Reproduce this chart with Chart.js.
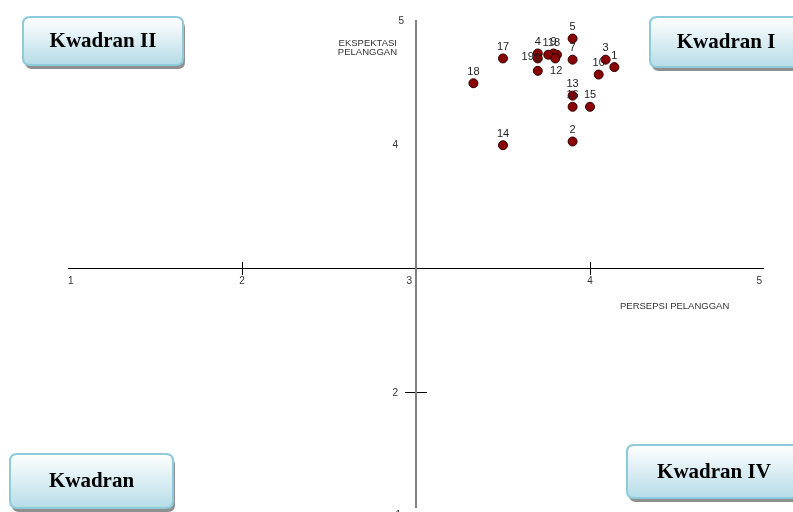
<!DOCTYPE html>
<html>
<head>
<title>Kuadran Persepsi vs Ekspektasi</title>
<script src="https://cdn.jsdelivr.net/npm/chart.js@4.4.0/dist/chart.umd.min.js"></script>
<style>
  body { margin: 0; background: #ffffff; }
  canvas#quad { display: block; }
</style>
</head>
<body>
<canvas id="quad" width="793" height="512"></canvas>

<script>
// data: atribut number, persepsi (x), ekspektasi (y)
const itemNo     = [1, 2, 3, 4, 5, 6, 7, 8, 9, 10, 11, 12, 13, 14, 15, 16, 17, 18, 19];
const persepsi   = [4.14, 3.90, 4.09, 3.70, 3.90, 3.70, 3.90, 3.81, 3.79, 4.05, 3.76, 3.80, 3.90, 3.50, 4.00, 3.90, 3.50, 3.33, 3.70];
const ekspektasi = [4.62, 4.02, 4.68, 4.73, 4.85, 4.59, 4.68, 4.72, 4.73, 4.56, 4.72, 4.69, 4.39, 3.99, 4.30, 4.30, 4.69, 4.49, 4.69];
const xTicks = [1, 2, 3, 4, 5];
const yTicks = [2, 4, 5];
const quadrantNames = ["Kwadran I", "Kwadran II", "Kwadran", "Kwadran IV"];

// where each number sits relative to its dot (style only)
const labelSide = {19: "left", 12: "belowRight"};

const points = itemNo.map((n, i) => ({x: persepsi[i], y: ekspektasi[i]}));

function roundRect(ctx, x, y, w, h, r) {
    ctx.beginPath();
    ctx.moveTo(x + r, y);
    ctx.lineTo(x + w - r, y);
    ctx.quadraticCurveTo(x + w, y, x + w, y + r);
    ctx.lineTo(x + w, y + h - r);
    ctx.quadraticCurveTo(x + w, y + h, x + w - r, y + h);
    ctx.lineTo(x + r, y + h);
    ctx.quadraticCurveTo(x, y + h, x, y + h - r);
    ctx.lineTo(x, y + r);
    ctx.quadraticCurveTo(x, y, x + r, y);
    ctx.closePath();
}

function drawBox(ctx, x, y, w, h, text) {
    ctx.save();
    // shadow strip
    roundRect(ctx, x + 2, y + 4, w, h, 7);
    ctx.fillStyle = "#8f8f8f";
    ctx.fill();
    roundRect(ctx, x, y, w, h, 7);
    let g = ctx.createLinearGradient(0, y, 0, y + h);
    g.addColorStop(0, "#ffffff");
    g.addColorStop(1, "#b6dce7");
    ctx.fillStyle = g;
    ctx.fill();
    ctx.lineWidth = 2;
    ctx.strokeStyle = "#8ccbdc";
    ctx.stroke();
    ctx.fillStyle = "#000000";
    ctx.font = "bold 21px 'Liberation Serif', 'Times New Roman', serif";
    ctx.textAlign = "center";
    ctx.textBaseline = "middle";
    ctx.fillText(text, x + w / 2, y + h / 2 + 1);
    ctx.restore();
}

// axes crossing at (3,3), drawn from the chart's own scales
const crossAxes = {
    id: "crossAxes",
    beforeDatasetsDraw(chart) {
        const ctx = chart.ctx;
        const xs = chart.scales.x, ys = chart.scales.y;
        const x0 = xs.getPixelForValue(3), y0 = ys.getPixelForValue(3);
        ctx.save();
        // horizontal axis
        ctx.strokeStyle = "#000000";
        ctx.lineWidth = 1;
        ctx.beginPath();
        ctx.moveTo(xs.getPixelForValue(1), Math.round(y0) + 0.5);
        ctx.lineTo(xs.getPixelForValue(5), Math.round(y0) + 0.5);
        ctx.stroke();
        // x tick marks at 2 and 4
        [2, 4].forEach(v => {
            const px = Math.round(xs.getPixelForValue(v)) + 0.5;
            ctx.beginPath();
            ctx.moveTo(px, y0 - 6);
            ctx.lineTo(px, y0 + 7);
            ctx.stroke();
        });
        // y tick mark at 2
        const py2 = Math.round(ys.getPixelForValue(2)) + 0.5;
        ctx.beginPath();
        ctx.moveTo(x0 - 11, py2);
        ctx.lineTo(x0 + 11, py2);
        ctx.stroke();
        // vertical axis
        ctx.strokeStyle = "#7f7f7f";
        ctx.lineWidth = 2;
        ctx.beginPath();
        ctx.moveTo(x0, ys.getPixelForValue(5));
        ctx.lineTo(x0, 508);
        ctx.stroke();

        // tick labels
        ctx.fillStyle = "#333333";
        ctx.font = "10px 'Liberation Sans', Arial, sans-serif";
        ctx.textBaseline = "top";
        xTicks.forEach(v => {
            let px = xs.getPixelForValue(v);
            ctx.textAlign = "center";
            if (v === 1) { ctx.textAlign = "left"; }
            if (v === 3) { ctx.textAlign = "right"; px -= 4; }
            if (v === 5) { ctx.textAlign = "right"; px -= 2; }
            ctx.fillText(String(v), px, y0 + 8);
        });
        ctx.textBaseline = "middle";
        ctx.textAlign = "right";
        yTicks.forEach(v => {
            let off = v === 5 ? 12 : 18;
            ctx.fillText(String(v), x0 - off, ys.getPixelForValue(v) + 1);
        });
        ctx.fillText("1", x0 - 15, 515);

        // axis titles
        ctx.font = "9.5px 'Liberation Sans', Arial, sans-serif";
        ctx.textAlign = "right";
        ctx.fillText("EKSPEKTASI", x0 - 19, 43);
        ctx.fillText("PELANGGAN", x0 - 19, 52);
        ctx.textAlign = "left";
        ctx.fillText("PERSEPSI PELANGGAN", 620, 306);
        ctx.restore();
    },
    afterDatasetsDraw(chart) {
        const ctx = chart.ctx;
        const meta = chart.getDatasetMeta(0);
        ctx.save();
        ctx.fillStyle = "#222222";
        ctx.font = "11px 'Liberation Sans', Arial, sans-serif";
        meta.data.forEach((el, i) => {
            const n = itemNo[i];
            const side = labelSide[n] || "above";
            let tx = el.x, ty = el.y - 6;
            ctx.textAlign = "center";
            ctx.textBaseline = "bottom";
            if (side === "left") { ctx.textAlign = "right"; ctx.textBaseline = "middle"; tx = el.x - 4; ty = el.y - 1; }
            if (side === "belowRight") { ctx.textAlign = "center"; ctx.textBaseline = "top"; tx = el.x + 1; ty = el.y + 7; }
            ctx.fillText(String(n), tx, ty);
        });
        ctx.restore();

        drawBox(ctx, 23, 17, 160, 48, quadrantNames[1]);
        drawBox(ctx, 650, 17, 152, 50, quadrantNames[0]);
        drawBox(ctx, 10, 454, 163, 54, quadrantNames[2]);
        drawBox(ctx, 627, 445, 174, 53, quadrantNames[3]);
    }
};

new Chart("quad", {
    type: "scatter",
    data: {
        datasets: [{
            data: points,
            backgroundColor: "#8b0000",
            borderColor: "#2a0000",
            borderWidth: 1,
            pointRadius: 4.5,
            pointHoverRadius: 4.5
        }]
    },
    options: {
        responsive: false,
        animation: false,
        events: [],
        layout: { autoPadding: false, padding: { left: 68, right: 29, top: 20, bottom: 0 } },
        plugins: { legend: { display: false }, tooltip: { enabled: false } },
        scales: {
            x: { type: "linear", min: 1, max: 5, display: false },
            y: { type: "linear", min: 1.032, max: 5, display: false }
        }
    },
    plugins: [crossAxes]
});
</script>
</body>
</html>
